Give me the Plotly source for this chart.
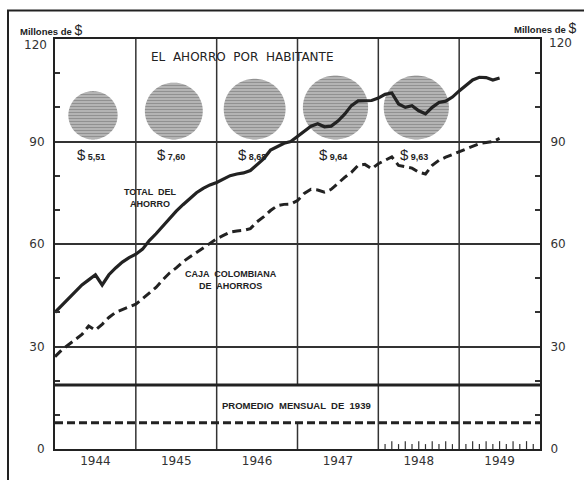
import numpy as np
import plotly.graph_objects as go

# ---- data (millones de $), monthly from Jan 1944 ----
total_ahorro = [40, 42, 44, 46, 48, 49.5, 51, 48, 51, 53, 54.7, 56,
                57, 58.5, 61, 63, 65.3, 67.5, 69.6, 71.5, 73.2, 75, 76.3, 77.3,
                78, 79, 80, 80.5, 80.8, 81.5, 83.4, 85, 87.5, 88.5, 89.5, 90,
                91.5, 93, 94.5, 95.2, 94.3, 94.5, 96, 98, 100.5, 101.9, 101.9, 102,
                102.7, 103.8, 104.2, 101, 100, 100.5, 99, 98.1, 100, 101.4, 101.8, 103,
                104.8, 106.5, 108, 108.8, 108.7, 108, 108.6]
caja_colombiana = [27, 29, 30.5, 32, 33.5, 36, 34.8, 36.5, 38.5, 40, 40.8, 41.5,
                   42.4, 44, 45.7, 47.3, 49.5, 51.5, 53, 54.8, 56.2, 57.5, 59, 60.3,
                   61.5, 62.5, 63.5, 63.8, 64, 64.5, 66.5, 68, 69.8, 71.2, 71.6, 71.7,
                   72.7, 74.8, 76, 75.8, 75.2, 76, 77.8, 79.5, 81, 83, 83.3, 82,
                   83.5, 84.5, 85.5, 83, 82.5, 82.2, 81, 80.5, 83, 84.5, 85.4, 86.2,
                   87, 88, 88.8, 89.4, 89.7, 90, 90.9]
promedio_1939_total = 18.75
promedio_1939_caja = 7.67

year_labels = [1944, 1945, 1946, 1947, 1948, 1949]
y_tick_values = [0, 30, 60, 90]
y_top_value = 120
ahorro_por_habitante = [5.51, 7.60, 8.68, 9.64, 9.63]
ahorro_labels = ["5,51", "7,60", "8,68", "9,64", "9,63"]
habitante_years = [1944, 1945, 1946, 1947, 1948]

# ---- geometry ----
W, H = 584, 480
ML, MR, MT, MB = 55, 44, 39, 23
PW, PH = W - ML - MR, H - MT - MB
X0, X1 = 1944, 1950
Y0, Y1 = 0, y_top_value
px_per_x = PW / (X1 - X0)
px_per_y = PH / (Y1 - Y0)

INK = "#222222"
x_month = X0 + np.arange(len(total_ahorro)) / 12.0

fig = go.Figure()

# per-capita circles (area proportional to value), resting on the 90 line
k = 21.0
theta = np.linspace(0, 2 * np.pi, 121)
for yr, v, lab in zip(habitante_years, ahorro_por_habitante, ahorro_labels):
    d = k * np.sqrt(v)
    r = d / 2
    cx = yr + 0.47
    cy = 90.6 + r / px_per_y
    fig.add_trace(go.Scatter(
        x=cx + (r / px_per_x) * np.cos(theta),
        y=cy + (r / px_per_y) * np.sin(theta),
        mode="none", fill="toself", fillcolor="#cccccc",
        fillpattern=dict(shape="-", size=3, solidity=0.6, fgcolor="#555555", bgcolor="#cccccc"),
        hoverinfo="skip", showlegend=False))
    fig.add_annotation(x=cx - 0.03, y=86.2, xref="x", yref="y", showarrow=False,
                       text="<span style='font-size:15px'>$</span> <b>" + lab + "</b>",
                       font=dict(family="Liberation Sans", size=9, color=INK))

# promedio mensual 1939
fig.add_trace(go.Scatter(x=[X0, X1], y=[promedio_1939_total] * 2, mode="lines",
                         line=dict(color=INK, width=3), hoverinfo="skip", showlegend=False))
fig.add_trace(go.Scatter(x=[X0, X1], y=[promedio_1939_caja] * 2, mode="lines",
                         line=dict(color=INK, width=3, dash="8px,4px"), yaxis="y2",
                         hoverinfo="skip", showlegend=False))

# main series
fig.add_trace(go.Scatter(x=x_month, y=caja_colombiana, mode="lines",
                         line=dict(color=INK, width=3, dash="9px,5px"), showlegend=False))
fig.add_trace(go.Scatter(x=x_month, y=total_ahorro, mode="lines",
                         line=dict(color=INK, width=3.2), showlegend=False))

shapes = []
# vertical year grid lines
for yb in range(1945, 1950):
    if yb == 1947:
        segs = [(0, promedio_1939_caja), (promedio_1939_total, Y1)]
    else:
        segs = [(0, Y1)]
    for a, b in segs:
        shapes.append(dict(type="line", xref="x", yref="y", x0=yb, x1=yb, y0=a, y1=b,
                           line=dict(color="#333333", width=1.5), layer="below"))
# monthly ticks along bottom for 1948-1949
for yb in (1948, 1949):
    for m in range(1, 12):
        h = 8 if m % 2 == 0 else 5
        shapes.append(dict(type="line", xref="x", yref="y", x0=yb + m / 12, x1=yb + m / 12,
                           y0=0, y1=h / px_per_y, line=dict(color="#333333", width=1.2)))
# outer frame
shapes.append(dict(type="rect", xref="paper", yref="paper",
                   x0=(8 - ML) / PW, x1=(600 - ML) / PW,
                   y0=(H - MB - 500) / PH, y1=(H - MB - 10) / PH,
                   line=dict(color=INK, width=2), fillcolor="rgba(0,0,0,0)", layer="above"))

# text annotations
ann_font = dict(family="Liberation Sans", size=9, color=INK)
fig.add_annotation(x=1946.31, y=114.6, text="EL  AHORRO  POR  HABITANTE", showarrow=False,
                   font=dict(family="DejaVu Sans", size=12, color=INK))
fig.add_annotation(x=1945.18, y=73.4, text="<b>TOTAL  DEL<br>AHORRO</b>", showarrow=False,
                   font=ann_font)
fig.add_annotation(x=1946.18, y=49.4, text="<b>CAJA  COLOMBIANA<br>DE  AHORROS</b>", showarrow=False,
                   font=ann_font)
fig.add_annotation(x=1946.99, y=12.6, text="<b>PROMEDIO  MENSUAL  DE  1939</b>", showarrow=False,
                   font=dict(family="Liberation Sans", size=9.5, color=INK))
fig.add_annotation(xref="paper", yref="paper", x=(18 - ML) / PW, y=(H - MB - 30) / PH,
                   xanchor="left", yanchor="middle", showarrow=False,
                   text="<b>Millones de </b><span style='font-size:14px'>$</span>",
                   font=dict(family="Liberation Sans", size=9.5, color=INK))
fig.add_annotation(xref="paper", yref="paper", x=(578 - ML) / PW, y=(H - MB - 28) / PH,
                   xanchor="right", yanchor="middle", showarrow=False,
                   text="<b>Millones de </b><span style='font-size:14px'>$</span>",
                   font=dict(family="Liberation Sans", size=9.5, color=INK))
# top "120" labels (sit just below the top tick, as in the original)
tick_font = dict(family="DejaVu Sans", size=12, color="#333333")
fig.add_annotation(xref="paper", yref="y", x=(49 - ML) / PW, y=Y1, yshift=-6,
                   xanchor="right", yanchor="middle", showarrow=False,
                   text=str(y_top_value), font=tick_font)
fig.add_annotation(xref="paper", yref="y", x=(547 - ML) / PW, y=Y1, yshift=-4,
                   xanchor="left", yanchor="middle", showarrow=False,
                   text=str(y_top_value), font=tick_font)

yax = dict(range=[Y0, Y1], tickvals=y_tick_values, ticks="",
           showgrid=True, gridcolor="#333333", gridwidth=1.5, zeroline=False,
           showline=True, linecolor=INK, linewidth=2, mirror=True,
           tickfont=tick_font,
           minor=dict(tickvals=[10, 20, 40, 50, 70, 80, 100, 110], ticks="inside",
                      ticklen=5, tickwidth=1.5, tickcolor="#333333", showgrid=False),
           fixedrange=True)

fig.update_layout(
    width=W, height=H,
    margin=dict(l=ML, r=MR, t=MT, b=MB, pad=0),
    paper_bgcolor="white", plot_bgcolor="white",
    showlegend=False,
    xaxis=dict(range=[X0, X1], tickvals=[y + 0.5 for y in year_labels],
               ticktext=[str(y) for y in year_labels], ticks="", showgrid=False,
               zeroline=False, showline=True, linecolor=INK, linewidth=2, mirror=True,
               tickfont=tick_font, fixedrange=True),
    yaxis=dict(**yax, ticklabelstandoff=6),
    yaxis2=dict(**{k2: v2 for k2, v2 in yax.items() if k2 not in ("showgrid",)},
                overlaying="y", side="right", showgrid=False, ticklabelstandoff=6),
    shapes=shapes,
)

fig.write_html("out.html", config={"displayModeBar": False},
               post_script="document.body.style.margin='0';")
